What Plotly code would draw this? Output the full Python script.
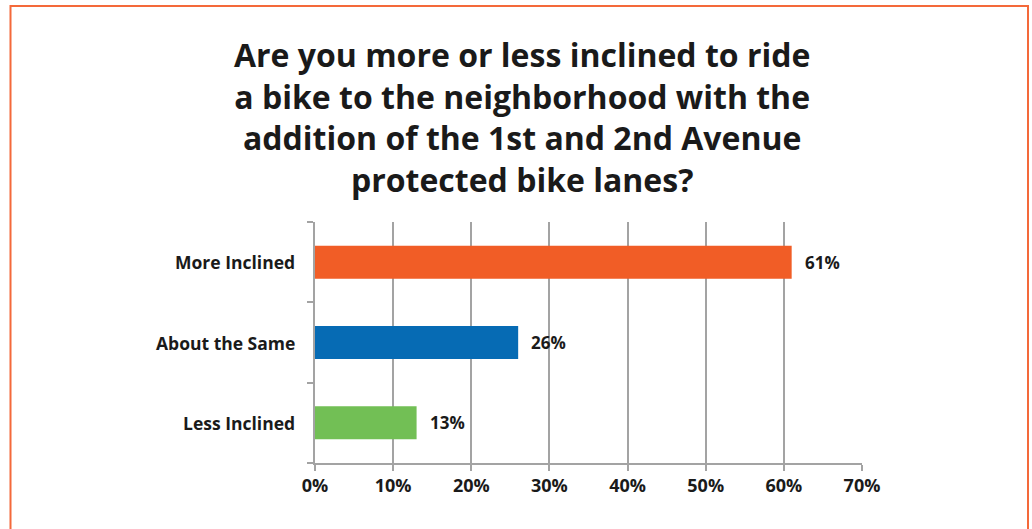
import plotly.graph_objects as go

categories = ["More Inclined", "About the Same", "Less Inclined"]
values = [61, 26, 13]
bar_colors = ["#F15D26", "#066BB4", "#72BF55"]
tick_vals = [0, 10, 20, 30, 40, 50, 60, 70]
tick_text = [f"{v}%" for v in tick_vals]
title_text = ("Are you more or less inclined to ride<br>a bike to the neighborhood with the<br>"
              "addition of the 1st and 2nd Avenue<br>protected bike lanes?")

W, H = 1032, 529
ml, mr, mt, mb = 315, 1032 - 862, 222, 529 - 463
pw, ph = W - ml - mr, H - mt - mb
FONT = "Open Sans"

fig = go.Figure(go.Bar(
    x=values, y=categories, orientation="h",
    marker=dict(color=bar_colors, line=dict(width=0)),
    cliponaxis=False, width=0.41, hoverinfo="skip",
))

def px2x(p):
    return (p - ml) / pw

def py2y(p):
    return (H - mb - p) / ph

fig.update_layout(
    width=W, height=H,
    margin=dict(l=ml, r=mr, t=mt, b=mb, pad=0),
    paper_bgcolor="white", plot_bgcolor="white",
    showlegend=False,
    font=dict(family=FONT, color="#1a1a1a"),
    xaxis=dict(range=[0, 70], tickvals=tick_vals, ticktext=tick_text,
               showgrid=True, gridcolor="#A3A3A3", gridwidth=1.5,
               showline=True, linecolor="#A3A3A3", linewidth=1.5,
               ticks="outside", ticklen=6, tickcolor="#A3A3A3", tickwidth=1.5,
               tickfont=dict(family=FONT, size=18, weight="bold", color="#1a1a1a"),
               zeroline=False, fixedrange=True),
    yaxis=dict(showline=True, linecolor="#A3A3A3", linewidth=1.5,
               tickvals=[-0.5, 0.5, 1.5, 2.5], ticktext=["", "", "", ""],
               ticks="outside", ticklen=6, tickcolor="#A3A3A3", tickwidth=1.5,
               range=[2.5, -0.5], showgrid=False, zeroline=False, fixedrange=True),
    shapes=[dict(type="rect", xref="paper", yref="paper",
                 x0=px2x(10.5), x1=px2x(1028), y0=py2y(560), y1=py2y(6),
                 line=dict(color="#F4693A", width=2), fillcolor="rgba(0,0,0,0)")],
)

# value labels
for i, v in enumerate(values):
    fig.add_annotation(x=v, y=i, xref="x", yref="y", text=f"{v}%",
                       showarrow=False, xanchor="left", yanchor="middle", xshift=11,
                       font=dict(family=FONT, size=17, weight="bold", color="#1a1a1a"))

# category labels (right aligned)
for i, c in enumerate(categories):
    fig.add_annotation(x=px2x(297), y=i, xref="paper", yref="y", text=c,
                       showarrow=False, xanchor="right", yanchor="middle",
                       font=dict(family=FONT, size=17.5, weight="bold", color="#1a1a1a"))

fig.add_annotation(x=px2x(522), y=py2y(117), xref="paper", yref="paper",
                   text=title_text, showarrow=False, xanchor="center", yanchor="middle",
                   align="center",
                   font=dict(family=FONT, size=32, weight="bold", color="#1a1a1a"))

fig.write_html("out.html", config={"displayModeBar": False},
               post_script="document.body.style.margin='0';document.body.style.overflow='hidden';")
